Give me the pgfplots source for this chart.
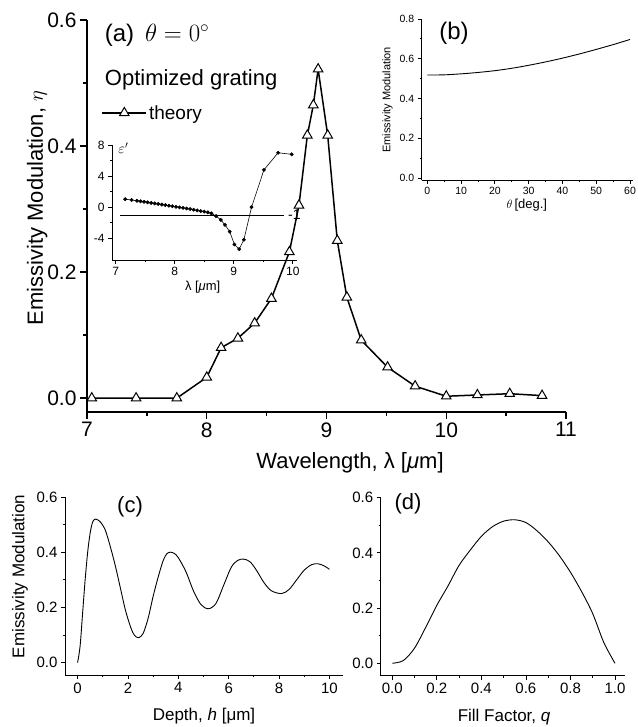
\documentclass[border=0pt]{standalone}
\usepackage{fontspec}
\setmainfont{Liberation Sans}
\usepackage{pgfplots}
\pgfplotsset{compat=1.18}

\pgfplotsset{
  panel/.style={
    scale only axis, anchor=south west,
    axis x line*=bottom, axis y line*=left,
    tick align=outside,
    axis line style={line width=0.9pt},
    every tick/.style={black, line width=0.8pt},
    major tick length=4pt, minor tick length=2.2pt,
    /pgf/number format/assume math mode=true,
    clip=false,
  },
  onedec/.style={/pgf/number format/.cd, fixed, fixed zerofill, precision=1},
}

\begin{document}
\begin{tikzpicture}[x=1pt,y=1pt]
\useasboundingbox (0,0) rectangle (637,727);

% ---- (a) main panel
\begin{axis}[panel,
  at={(87pt,315pt)}, width=479pt, height=392pt,
  xmin=7, xmax=11, ymin=-0.022, ymax=0.6,
  xtick={7,8,9,10,11}, minor x tick num=1,
  ytick={0,0.2,0.4,0.6}, minor y tick num=1,
  yticklabel style={onedec},
  ticklabel style={font=\fontsize{21}{24}\selectfont},
  major tick length=7pt, minor tick length=4pt,
  axis line style={line width=1.5pt},
  every tick/.style={black, line width=1.3pt},
  xlabel={Wavelength, λ [\textit{μ}m]},
  ylabel={Emissivity Modulation, $\eta$},
  label style={font=\fontsize{22}{26}\selectfont},
  xlabel style={at={(axis description cs:0.549,-0.13)}, anchor=center},
  ylabel style={at={(axis description cs:-0.104,0.52)}, anchor=center},
  legend style={at={(0.03,0.763)}, anchor=west, draw=none, fill=none,
    font=\fontsize{19}{22}\selectfont, inner sep=0pt},
  legend image code/.code={\draw[mark repeat=2,mark phase=2,#1]
    plot coordinates {(0pt,0pt) (22pt,0pt) (44pt,0pt)};},
]
\addplot[black, line width=1.5pt, mark=triangle*, mark size=5.5pt,
  mark options={fill=white, line width=1pt}] coordinates {
  (7.04,0.000) (7.41,0.000) (7.75,0.000) (8.00,0.033) (8.12,0.080)
  (8.26,0.095) (8.40,0.119) (8.54,0.158) (8.69,0.232) (8.77,0.306)
  (8.84,0.417) (8.89,0.465) (8.93,0.522) (9.01,0.417) (9.09,0.250)
  (9.17,0.160) (9.29,0.092) (9.51,0.049) (9.74,0.019) (10.00,0.003)
  (10.26,0.005) (10.53,0.007) (10.80,0.004)
};
\addlegendentry{theory}
\node[anchor=west, font=\fontsize{24}{28}\selectfont] at (rel axis cs:0.03,0.962)
  {(a)\hspace{0.45em}$\theta=0^\circ$};
\node[anchor=west, font=\fontsize{22}{26}\selectfont] at (rel axis cs:0.03,0.847)
  {Optimized grating};
\end{axis}

% ---- inset of (a): permittivity
\begin{axis}[panel,
  at={(112pt,467pt)}, width=185pt, height=115pt,
  xmin=6.937, xmax=10.07, ymin=-6.8, ymax=8,
  xtick={7,8,9,10}, minor x tick num=1,
  ytick={-4,0,4,8}, minor y tick num=1,
  ticklabel style={font=\fontsize{12}{14}\selectfont},
  xlabel={λ [\textit{μ}m]},
  xlabel style={at={(axis description cs:0.49,-0.235)}, anchor=center,
    font=\fontsize{13}{15}\selectfont},
]
\addplot[black, line width=0.6pt, mark=*, mark size=1.6pt] coordinates {
  (7.16,1.03) (7.27,0.92) (7.36,0.82) (7.42,0.76) (7.48,0.69) (7.54,0.62)
  (7.60,0.55) (7.66,0.48) (7.72,0.41) (7.78,0.34) (7.84,0.27) (7.90,0.19)
  (7.96,0.12) (8.02,0.04) (8.08,-0.03) (8.14,-0.10) (8.20,-0.17) (8.26,-0.25)
  (8.32,-0.33) (8.38,-0.42) (8.44,-0.50) (8.50,-0.58) (8.56,-0.67) (8.62,-0.80)
  (8.70,-1.15) (8.78,-1.64) (8.85,-2.28) (8.93,-3.15) (9.01,-4.80) (9.09,-5.40)
  (9.17,-4.20) (9.30,0.00) (9.51,4.80) (9.75,7.00) (9.98,6.80)
};
\addplot[black, line width=0.8pt] coordinates {(7.07,-1) (9.85,-1)};
\node[anchor=west, font=\fontsize{14}{16}\selectfont] at (axis cs:9.86,-1) {-1};
\node[font=\fontsize{14}{16}\selectfont] at (axis cs:7.13,7.6) {$\varepsilon'$};
\end{axis}

% ---- (b) angle dependence
\begin{axis}[panel,
  at={(421.7pt,547pt)}, width=211pt, height=161pt,
  xmin=-1.66, xmax=60.8, ymin=-0.01, ymax=0.8,
  xtick={0,10,...,60}, minor x tick num=1,
  ytick={0,0.2,...,0.8}, minor y tick num=1,
  yticklabel style={onedec},
  ticklabel style={font=\fontsize{10.5}{12}\selectfont},
  xlabel={$\theta$\,[deg.]},
  ylabel={Emissivity Modulation},
  xlabel style={at={(axis description cs:0.498,-0.155)}, anchor=center,
    font=\fontsize{13}{15}\selectfont},
  ylabel style={at={(axis description cs:-0.162,0.497)}, anchor=center,
    font=\fontsize{11}{13}\selectfont},
]
\addplot[black, line width=0.9pt, smooth] coordinates {
  (0,0.518) (5,0.519) (10,0.524) (15,0.531) (20,0.540) (25,0.552) (30,0.567)
  (35,0.584) (40,0.603) (45,0.624) (50,0.647) (55,0.671) (60,0.697)
};
\node[font=\fontsize{24}{28}\selectfont] at (rel axis cs:0.153,0.913) {(b)};
\end{axis}

% ---- (c) depth dependence
\begin{axis}[panel,
  at={(65pt,52pt)}, width=278pt, height=178pt,
  xmin=-0.5, xmax=10.54, ymin=-0.045, ymax=0.6,
  xtick={0,2,...,10}, minor x tick num=1,
  ytick={0,0.2,0.4,0.6}, minor y tick num=1,
  yticklabel style={onedec},
  ticklabel style={font=\fontsize{15}{17}\selectfont},
  xlabel={Depth, \textit{h} [μm]},
  ylabel={Emissivity Modulation},
  label style={font=\fontsize{17}{20}\selectfont},
  xlabel style={at={(axis description cs:0.5,-0.232)}, anchor=center},
  ylabel style={at={(axis description cs:-0.162,0.554)}, anchor=center},
]
\addplot[black, line width=0.9pt, smooth] coordinates {
  (0,0) (0.1,0.06) (0.2,0.18) (0.3,0.30) (0.4,0.40) (0.5,0.47) (0.6,0.51)
  (0.72,0.52) (0.9,0.51) (1.1,0.48) (1.3,0.42) (1.5,0.35) (1.7,0.27)
  (1.9,0.19) (2.1,0.13) (2.25,0.10) (2.42,0.09) (2.6,0.105) (2.8,0.16)
  (3.0,0.24) (3.2,0.31) (3.4,0.37) (3.55,0.395) (3.7,0.40) (3.85,0.395)
  (4.0,0.38) (4.3,0.33) (4.6,0.26) (4.9,0.21) (5.2,0.195) (5.5,0.215)
  (5.8,0.28) (6.1,0.345) (6.35,0.37) (6.6,0.375) (6.85,0.365) (7.1,0.335)
  (7.4,0.29) (7.7,0.26) (8.1,0.25) (8.4,0.265) (8.7,0.30) (9.0,0.335)
  (9.3,0.355) (9.55,0.358) (9.8,0.35) (10.0,0.338)
};
\node[font=\fontsize{22}{26}\selectfont] at (rel axis cs:0.234,0.947) {(c)};
\end{axis}

% ---- (d) fill factor dependence
\begin{axis}[panel,
  at={(380.7pt,51.3pt)}, width=244.3pt, height=178pt,
  xmin=-0.052, xmax=1.045, ymin=-0.045, ymax=0.6,
  xtick={0,0.2,...,1.0}, minor x tick num=1,
  ytick={0,0.2,0.4,0.6}, minor y tick num=1,
  xticklabel style={onedec}, yticklabel style={onedec},
  ticklabel style={font=\fontsize{15}{17}\selectfont},
  xlabel={Fill Factor, \textit{q}},
  label style={font=\fontsize{17}{20}\selectfont},
  xlabel style={at={(axis description cs:0.505,-0.232)}, anchor=center},
]
\addplot[black, line width=0.9pt, smooth] coordinates {
  (0,0) (0.05,0.01) (0.1,0.055) (0.15,0.13) (0.2,0.21) (0.25,0.28)
  (0.3,0.355) (0.35,0.41) (0.4,0.46) (0.45,0.495) (0.5,0.515) (0.55,0.52)
  (0.6,0.51) (0.65,0.48) (0.7,0.44) (0.75,0.39) (0.8,0.33) (0.85,0.26)
  (0.9,0.18) (0.95,0.075) (1.0,0)
};
\node[font=\fontsize{22}{26}\selectfont] at (rel axis cs:0.112,0.967) {(d)};
\end{axis}
\end{tikzpicture}
\end{document}
